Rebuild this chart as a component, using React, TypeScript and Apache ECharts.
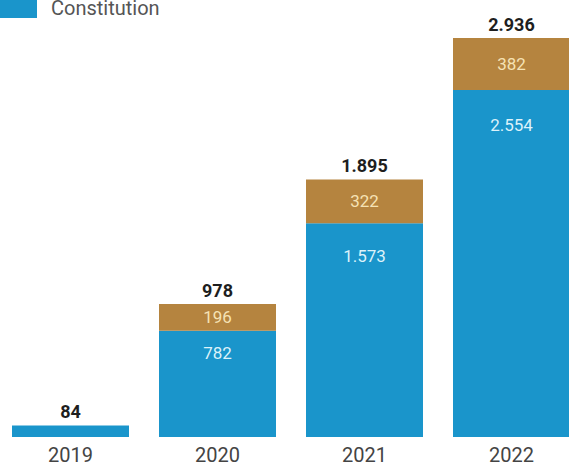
import React, { useEffect, useRef } from "react";
import * as echarts from "echarts";

const categories = ["2019", "2020", "2021", "2022"];
const blueValues = [84, 782, 1573, 2554];
const brownValues: (number | null)[] = [null, 196, 322, 382];
const totals = [84, 978, 1895, 2936];
const legendName = "Constitution";

const fmt = (v: number) => String(v).replace(/\B(?=(\d{3})+(?!\d))/g, ".");

export default function App() {
  const ref = useRef<HTMLDivElement>(null);
  useEffect(() => {
    document.body.style.margin = "0";
    const chart = echarts.init(ref.current!, null, { renderer: "svg" });
    const blueLabelDist = [0, 14, 24, 27];
    chart.setOption({
      animation: false,
      backgroundColor: "#ffffff",
      textStyle: { fontFamily: "Roboto" },
      legend: {
        data: [legendName],
        left: 3,
        top: -3,
        padding: 0,
        itemWidth: 37,
        itemHeight: 21,
        icon: "rect",
        textStyle: { fontSize: 20, color: "#555", padding: [0, 0, 0, 9] },
      },
      grid: { left: 0, right: 0, top: 38, bottom: 29 },
      xAxis: {
        type: "category",
        data: categories,
        axisLine: { show: false },
        axisTick: { show: false },
        axisLabel: { fontSize: 20, color: "#444", margin: 8 },
      },
      yAxis: {
        type: "value",
        min: 0,
        max: 2936,
        show: false,
        splitLine: { show: false },
      },
      series: [
        {
          name: legendName,
          type: "bar",
          stack: "a",
          barWidth: 117,
          itemStyle: { color: "#1a95cb" },
          data: blueValues.map((v, i) => ({
            value: v,
            label: {
              show: i > 0,
              position: "insideTop",
              distance: blueLabelDist[i],
              formatter: () => fmt(v),
              color: "#dcf2fa",
              fontSize: 17,
            },
          })),
        },
        {
          name: "other",
          type: "bar",
          stack: "a",
          barWidth: 117,
          itemStyle: { color: "#b5843f" },
          label: {
            show: true,
            position: "inside",
            color: "#f5e2b4",
            fontSize: 17,
            formatter: (p: any) => fmt(p.value),
          },
          data: brownValues.map((v) => (v == null ? "-" : v)),
        },
        {
          name: "total",
          type: "bar",
          stack: "a",
          barWidth: 117,
          itemStyle: { color: "transparent" },
          label: {
            show: true,
            position: "top",
            distance: 5,
            color: "#1e1e1e",
            fontSize: 18,
            fontWeight: "bold",
            formatter: (p: any) => fmt(totals[p.dataIndex]),
          },
          data: totals.map(() => 0),
        },
      ],
    });
    return () => chart.dispose();
  }, []);
  return (
    <div style={{ position: "relative", width: 569, height: 466, overflow: "hidden" }}>
      <div ref={ref} style={{ position: "absolute", left: -3, top: 0, width: 588, height: 466 }} />
    </div>
  );
}
